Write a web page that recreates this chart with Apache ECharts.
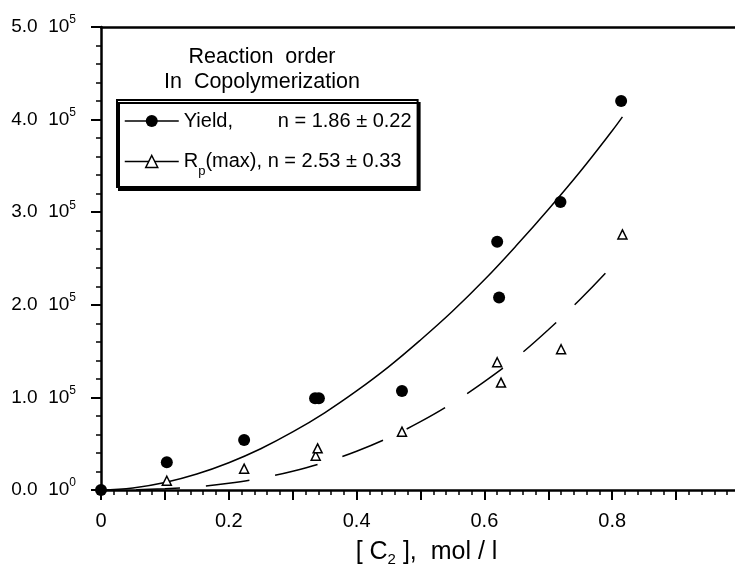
<!DOCTYPE html>
<html>
<head>
<meta charset="utf-8">
<script src="https://cdn.jsdelivr.net/npm/echarts@6/dist/echarts.min.js"></script>
<style>
  html, body { margin: 0; padding: 0; background: #fff; }
  #chart { width: 735px; height: 570px; }
</style>
</head>
<body>
<div id="chart"></div>
<script>
// Measured points: polymer yield (filled circles)
const yieldX = [0, 0.103, 0.224, 0.335, 0.341, 0.471, 0.620, 0.623, 0.719, 0.814];
const yieldY = [0, 30000, 54000, 99000, 99000, 107000, 268000, 208000, 311000, 420000];

// Measured points: maximum polymerization rate (open triangles)
const rpX = [0.103, 0.224, 0.336, 0.339, 0.471, 0.620, 0.626, 0.720, 0.816];
const rpY = [10000, 23000, 37000, 45000, 63000, 138000, 116000, 152000, 276000];

// Power-law fit curves, sampled along the concentration axis
const fitX = [0, 0.05, 0.1, 0.15, 0.2, 0.25, 0.3, 0.35, 0.4, 0.45, 0.5, 0.55, 0.6, 0.65, 0.7, 0.75, 0.8, 0.816];
const yieldFit = [0, 2200, 8100, 17300, 29500, 44600, 62700, 83400, 107000, 133000, 162000, 193000, 227000, 264000, 303000, 344000, 388000, 403000];
const rpFit = [0, 200, 1300, 3500, 7300, 12800, 20300, 29900, 41900, 56500, 73800, 93900, 117000, 143000, 173000, 206000, 242000, 255000];

// Axis tick labels
const xTickLabels = ['0', '0.2', '0.4', '0.6', '0.8'];
const yTickMantissa = ['0.0', '1.0', '2.0', '3.0', '4.0', '5.0'];
const yTickExponent = ['0', '5', '5', '5', '5', '5'];

// Text
const titleLines = ['Reaction  order', 'In  Copolymerization'];
const legendLabels = ['Yield,', 'R'];
const legendSub = ['', 'p'];
const legendRest = ['n = 1.86 \u00b1 0.22', '(max), n = 2.53 \u00b1 0.33'];
const xAxisTitle = ['[ C', '2', ' ],  mol / l'];

const FONT = "'Liberation Sans', Arial, Helvetica, sans-serif";
const pair = (xs, ys) => xs.map((x, i) => [x, ys[i]]);

const chart = echarts.init(document.getElementById('chart'), null, { renderer: 'canvas' });

chart.setOption({
  animation: false,
  backgroundColor: '#fff',
  textStyle: { fontFamily: FONT, color: '#000' },
  title: {
    text: titleLines.join('\n'),
    left: 262,
    top: 45,
    padding: 0,
    textAlign: 'center',
    textStyle: { fontFamily: FONT, fontSize: 21.5, fontWeight: 'normal', color: '#000', lineHeight: 25 }
  },
  grid: {
    left: 101, top: 27, right: -5, bottom: 80,
    containLabel: false,
    outerBoundsMode: 'none'
  },
  legend: {
    orient: 'vertical',
    left: 117,
    top: 100,
    padding: [11, 6, 9, 7],
    itemGap: 14,
    itemWidth: 54,
    itemHeight: 15,
    selectedMode: false,
    backgroundColor: '#fff',
    borderColor: '#000',
    borderWidth: 2,
    borderRadius: 0,
    shadowColor: '#000',
    shadowBlur: 0,
    shadowOffsetX: 2,
    shadowOffsetY: 3,
    lineStyle: { width: 1.5, color: '#000' },
    data: [
      { name: 'Yield', itemStyle: { color: '#000', borderWidth: 0, opacity: 1 } },
      { name: 'Rp', lineStyle: { type: 'solid', width: 1.5, color: '#000' },
        itemStyle: { color: '#fff', borderColor: '#000', borderWidth: 1.5, opacity: 1 } }
    ],
    formatter: function (name) {
      const i = name === 'Yield' ? 0 : 1;
      if (i === 0) return '{a|' + legendLabels[0] + '}{b|' + legendRest[0] + '}';
      return '{c|' + legendLabels[1] + '}{sub|' + legendSub[1] + '}{b|' + legendRest[1] + '}';
    },
    textStyle: {
      fontFamily: FONT, fontSize: 20, color: '#000',
      rich: {
        a: { fontFamily: FONT, fontSize: 20, color: '#000', width: 94, lineHeight: 22 },
        b: { fontFamily: FONT, fontSize: 20, color: '#000', lineHeight: 22 },
        c: { fontFamily: FONT, fontSize: 20, color: '#000', lineHeight: 22 },
        sub: { fontFamily: FONT, fontSize: 13, color: '#000', lineHeight: 13, padding: [20, 0, 0, 0] }
      }
    }
  },
  xAxis: [{
    type: 'value',
    position: 'bottom',
    min: 0, max: 1.0, interval: 0.1,
    name: '{t|' + xAxisTitle[0] + '}{s|' + xAxisTitle[1] + '}{t|' + xAxisTitle[2] + '}',
    nameLocation: 'middle',
    nameGap: 47,
    nameTextStyle: {
      padding: [0, 0, 0, 12],
      rich: {
        t: { fontFamily: FONT, fontSize: 25, color: '#000', lineHeight: 30 },
        s: { fontFamily: FONT, fontSize: 15, color: '#000', lineHeight: 15, verticalAlign: 'bottom' }
      }
    },
    splitLine: { show: false },
    axisLine: { show: true, onZero: false, lineStyle: { color: '#000', width: 2.5 } },
    axisTick: { show: true, inside: false, length: 10, lineStyle: { color: '#000', width: 2 } },
    minorTick: { show: true, splitNumber: 5, length: 5, lineStyle: { color: '#000', width: 1.5 } },
    axisLabel: {
      margin: 21,
      fontFamily: FONT, fontSize: 20, color: '#000',
      showMinLabel: true, showMaxLabel: true,
      formatter: function (v) {
        const k = Math.round(v * 10);
        if (k % 2 !== 0) return '';
        return xTickLabels[k / 2] || '';
      }
    }
  }, {
    type: 'value',
    position: 'top',
    min: 0, max: 1.0,
    axisLine: { show: true, onZero: false, lineStyle: { color: '#000', width: 2.5 } },
    axisTick: { show: false },
    axisLabel: { show: false },
    splitLine: { show: false }
  }],
  yAxis: {
    type: 'value',
    min: 0, max: 500000, interval: 100000,
    splitLine: { show: false },
    axisLine: { show: true, onZero: false, lineStyle: { color: '#000', width: 2.5 } },
    axisTick: { show: true, inside: false, length: 10, lineStyle: { color: '#000', width: 2 } },
    minorTick: { show: true, splitNumber: 5, length: 5, lineStyle: { color: '#000', width: 1.5 } },
    axisLabel: {
      margin: 25,
      fontFamily: FONT, color: '#000',
      formatter: function (v) {
        const i = Math.round(v / 100000);
        return '{m|' + yTickMantissa[i] + '  10}{e|' + yTickExponent[i] + '}';
      },
      rich: {
        m: { fontFamily: FONT, fontSize: 19, color: '#000', lineHeight: 26 },
        e: { fontFamily: FONT, fontSize: 12, color: '#000', lineHeight: 12, verticalAlign: 'top' }
      }
    }
  },
  series: [
    {
      name: 'Yield',
      type: 'line',
      data: pair(fitX, yieldFit),
      smooth: 0.4,
      symbol: 'circle',
      symbolSize: 12,
      showSymbol: false,
      itemStyle: { color: '#000', opacity: 1 },
      lineStyle: { color: '#000', width: 1.5 },
      z: 2
    },
    {
      name: 'Rp',
      type: 'line',
      data: pair(fitX, rpFit),
      smooth: 0.4,
      symbol: 'triangle',
      symbolSize: 9,
      showSymbol: false,
      itemStyle: { color: '#fff', borderColor: '#000', borderWidth: 1.5, opacity: 1 },
      lineStyle: { color: '#000', width: 1.5, type: [44, 26], dashOffset: 35 },
      z: 2
    },
    {
      name: 'Rp points',
      type: 'scatter',
      data: pair(rpX, rpY),
      symbol: 'triangle',
      symbolSize: 9,
      clip: false,
      itemStyle: { color: '#fff', borderColor: '#000', borderWidth: 1.5, opacity: 1 },
      z: 3
    },
    {
      name: 'Yield points',
      type: 'scatter',
      data: pair(yieldX, yieldY),
      symbol: 'circle',
      symbolSize: 12,
      clip: false,
      itemStyle: { color: '#000', opacity: 1 },
      z: 4
    }
  ]
});
</script>
</body>
</html>
